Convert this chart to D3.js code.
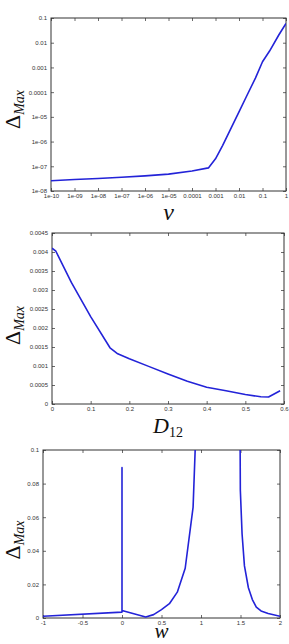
<!DOCTYPE html>
<html>
<head>
<meta charset="utf-8">
<script src="https://cdn.jsdelivr.net/npm/d3@7"></script>
<style>
  body { margin: 0; background: #fff; }
  svg { display: block; }
</style>
</head>
<body>
<svg id="chart" width="289" height="644"></svg>
<script>
// panel 1 : Delta_Max vs nu (log-log)
const nuX = [1e-10, 1e-9, 1e-8, 1e-7, 1e-6, 1e-5, 1e-4, 5e-4, 1e-3, 2e-3, 5e-3, 1e-2, 2e-2, 5e-2, 0.1, 0.2, 0.5, 1];
const nuY = [2.6e-8, 2.9e-8, 3.2e-8, 3.6e-8, 4.1e-8, 4.8e-8, 6.4e-8, 8.6e-8, 2e-7, 6.9e-7, 4.1e-6, 1.6e-5, 6.2e-5, 3.7e-4, 1.7e-3, 4.6e-3, 0.021, 0.06];
const nuXTicks = [1e-10, 1e-9, 1e-8, 1e-7, 1e-6, 1e-5, 1e-4, 1e-3, 1e-2, 0.1, 1];
const nuXLabels = ["1e-10", "1e-09", "1e-08", "1e-07", "1e-06", "1e-05", "0.0001", "0.001", "0.01", "0.1", "1"];
const nuYTicks = [1e-8, 1e-7, 1e-6, 1e-5, 1e-4, 1e-3, 1e-2, 0.1];
const nuYLabels = ["1e-08", "1e-07", "1e-06", "1e-05", "0.0001", "0.001", "0.01", "0.1"];

// panel 2 : Delta_Max vs D12
const dX = [0, 0.01, 0.05, 0.1, 0.15, 0.17, 0.2, 0.25, 0.3, 0.35, 0.4, 0.45, 0.5, 0.54, 0.56, 0.59];
const dY = [0.0041, 0.00402, 0.0032, 0.0023, 0.00148, 0.00132, 0.00119, 0.00099, 0.00079, 0.0006, 0.00044, 0.00035, 0.00025, 0.00019, 0.000185, 0.00035];
const dXTicks = [0, 0.1, 0.2, 0.3, 0.4, 0.5, 0.6];
const dYTicks = [0, 0.0005, 0.001, 0.0015, 0.002, 0.0025, 0.003, 0.0035, 0.004, 0.0045];

// panel 3 : Delta_Max vs w (two branches, null splits them)
const wX = [-1, 0, 0, 0, 0.3, 0.4, 0.5, 0.6, 0.7, 0.8, 0.9, 0.93, null, 1.495, 1.498, 1.52, 1.55, 1.6, 1.65, 1.7, 1.76, 1.85, 2];
const wY = [0.001, 0.0035, 0.0895, 0.0045, 0.0006, 0.002, 0.005, 0.0085, 0.0154, 0.0296, 0.066, 0.105, null, 0.105, 0.076, 0.05, 0.031, 0.018, 0.011, 0.0065, 0.0042, 0.0027, 0.001];
const wXTicks = [-1, -0.5, 0, 0.5, 1, 1.5, 2];
const wYTicks = [0, 0.02, 0.04, 0.06, 0.08, 0.1];

const svg = d3.select("#chart");
const lineColor = "#2323d8";

function drawPanel(cfg) {
    const g = svg.append("g");
    const x = (cfg.logX ? d3.scaleLog() : d3.scaleLinear()).domain(cfg.xDomain).range([cfg.left, cfg.right]);
    const y = (cfg.logY ? d3.scaleLog() : d3.scaleLinear()).domain(cfg.yDomain).range([cfg.bottom, cfg.top]);

    const clipId = "clip" + cfg.id;
    g.append("clipPath").attr("id", clipId).append("rect")
        .attr("x", cfg.left).attr("y", cfg.top).attr("width", cfg.right - cfg.left).attr("height", cfg.bottom - cfg.top);

    const fmtX = cfg.xLabels ? (d, i) => cfg.xLabels[i] : d => String(d);
    const fmtY = cfg.yLabels ? (d, i) => cfg.yLabels[i] : d => String(d);

    // inward ticks, mirrored on top and right
    const axes = [
        { ax: d3.axisBottom(x).tickValues(cfg.xTicks).tickFormat(fmtX), pos: `translate(0,${cfg.bottom})`, pad: 3 },
        { ax: d3.axisTop(x).tickValues(cfg.xTicks).tickFormat(""), pos: `translate(0,${cfg.top})`, pad: 3 },
        { ax: d3.axisLeft(y).tickValues(cfg.yTicks).tickFormat(fmtY), pos: `translate(${cfg.left},0)`, pad: 4 },
        { ax: d3.axisRight(y).tickValues(cfg.yTicks).tickFormat(""), pos: `translate(${cfg.right},0)`, pad: 4 }
    ];
    axes.forEach(a => {
        const ag = g.append("g").attr("transform", a.pos)
            .call(a.ax.tickSizeInner(-3).tickSizeOuter(0).tickPadding(a.pad));
        ag.select(".domain").remove();
        ag.selectAll(".tick line").attr("stroke", "#444").attr("stroke-width", 0.8);
        ag.selectAll(".tick text").attr("fill", "#333").style("font", "6px 'Liberation Sans', Arial, sans-serif");
    });

    g.append("rect").attr("x", cfg.left).attr("y", cfg.top)
        .attr("width", cfg.right - cfg.left).attr("height", cfg.bottom - cfg.top)
        .attr("fill", "none").attr("stroke", "#333").attr("stroke-width", 1);

    const pts = cfg.xs.map((v, i) => [v, cfg.ys[i]]);
    const line = d3.line().defined(d => d[0] !== null).x(d => x(d[0])).y(d => y(d[1]));
    g.append("path").attr("d", line(pts)).attr("clip-path", `url(#${clipId})`)
        .attr("fill", "none").attr("stroke", lineColor).attr("stroke-width", 1.6).attr("stroke-linejoin", "round");

    // x title
    const xt = g.append("text").attr("x", (cfg.left + cfg.right) / 2).attr("y", cfg.xTitleY)
        .attr("text-anchor", "middle").style("font-family", "'Liberation Serif', 'DejaVu Serif', serif")
        .style("font-style", "italic").style("font-size", cfg.xTitleSize + "px").attr("fill", "#111");
    xt.append("tspan").text(cfg.xTitle);
    if (cfg.xSub) xt.append("tspan").attr("dy", 4).style("font-style", "normal").style("font-size", "14px").text(cfg.xSub);

    // y title: Delta_Max rotated
    const cy = (cfg.top + cfg.bottom) / 2 + cfg.yTitleShift;
    const yt = g.append("text").attr("transform", `translate(${cfg.yTitleX},${cy}) rotate(-90)`)
        .attr("text-anchor", "middle").style("font-family", "'Liberation Serif', 'DejaVu Serif', serif").attr("fill", "#111");
    yt.append("tspan").style("font-size", "22px").text("Δ");
    yt.append("tspan").attr("dy", 4).style("font-size", "14px").style("font-style", "italic").text("Max");
}

drawPanel({ id: 1, left: 51, right: 286, top: 18, bottom: 191, logX: true, logY: true,
    xDomain: [1e-10, 1], yDomain: [1e-8, 0.1], xs: nuX, ys: nuY,
    xTicks: nuXTicks, xLabels: nuXLabels, yTicks: nuYTicks, yLabels: nuYLabels,
    xTitle: "ν", xTitleSize: 24, xTitleY: 220, yTitleX: 20, yTitleShift: 5 });

drawPanel({ id: 2, left: 52, right: 284, top: 233, bottom: 404,
    xDomain: [0, 0.6], yDomain: [0, 0.0045], xs: dX, ys: dY,
    xTicks: dXTicks, yTicks: dYTicks,
    xTitle: "D", xSub: "12", xTitleSize: 22, xTitleY: 433, yTitleX: 20, yTitleShift: 7 });

drawPanel({ id: 3, left: 43, right: 280, top: 450, bottom: 618,
    xDomain: [-1, 2], yDomain: [0, 0.1], xs: wX, ys: wY,
    xTicks: wXTicks, yTicks: wYTicks,
    xTitle: "w", xTitleSize: 21, xTitleY: 638, yTitleX: 20, yTitleShift: 6 });
</script>
</body>
</html>
